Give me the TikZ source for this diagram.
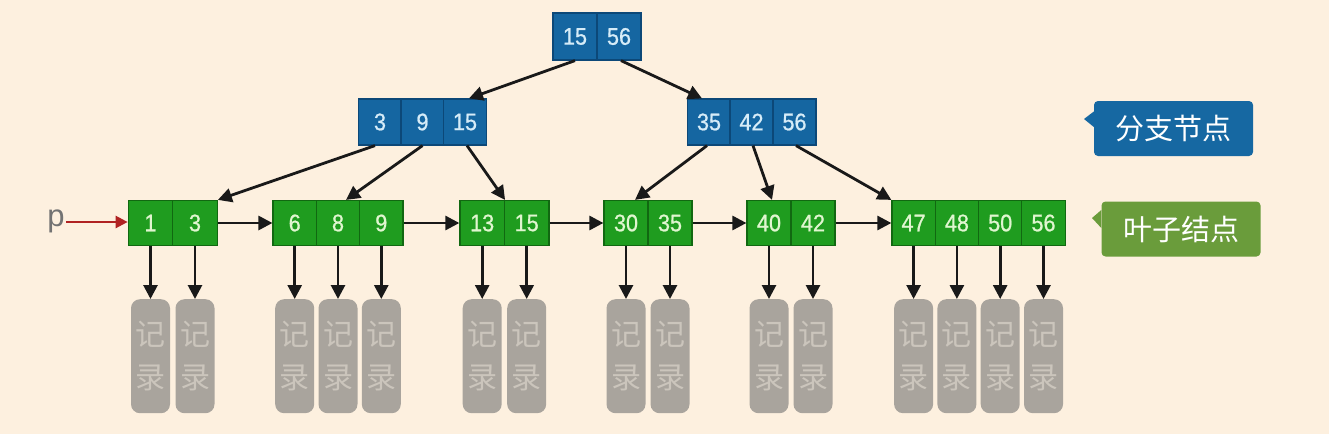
\documentclass[tikz,border=0pt]{standalone}
\usepackage{fontspec}
\setmainfont{Liberation Sans}[FakeStretch=0.9, FakeBold=0.8]
\newfontfamily\plainfont{Liberation Sans}
\newfontfamily\cjk{Noto Sans CJK SC}
\usetikzlibrary{arrows.meta}
\definecolor{bg}{HTML}{FDF0DF}
\definecolor{bfill}{HTML}{1566A1}
\definecolor{bline}{HTML}{0C4878}
\definecolor{btext}{HTML}{D6ECF8}
\definecolor{gfill}{HTML}{1F9C1F}
\definecolor{gline}{HTML}{116811}
\definecolor{gtext}{HTML}{E0F6D0}
\definecolor{recfill}{HTML}{A9A49D}
\definecolor{rectext}{HTML}{CBC5BC}
\definecolor{labgreen}{HTML}{6A9C3B}
\definecolor{labblue}{HTML}{1668A2}
\definecolor{parrow}{HTML}{B02222}
\tikzset{
  bcell/.style={draw=bline, line width=1.2pt, fill=bfill, text=btext, minimum height=46pt, minimum width=43pt, inner sep=0pt, font=\fontsize{24}{24}\selectfont},
  gcell/.style={draw=gline, line width=1.2pt, fill=gfill, text=gtext, minimum height=45pt, minimum width=43.3pt, inner sep=0pt, font=\fontsize{24}{24}\selectfont},
  rec/.style={fill=recfill, rounded corners=9pt, minimum width=39pt, minimum height=114pt, inner sep=0pt, text=rectext, align=center, font=\cjk\fontsize{30}{43}\selectfont},
  link/.style={line width=2.8pt, draw=black!90, -{Triangle[length=14pt,width=14pt]}},
  lab/.style={rounded corners=4pt, text=white, minimum width=159pt, minimum height=55pt, inner sep=0pt, font=\cjk\fontsize{29}{29}\selectfont}
}
\begin{document}
\begin{tikzpicture}[x=1pt,y=-1pt]
\useasboundingbox[fill=bg] (0,0) rectangle (1329,434);
% root
\node[bcell, minimum width=44pt, minimum height=47pt] (r1) at (575,36.5) {15};
\node[bcell, minimum width=44pt, minimum height=47pt] (r2) at (619,36.5) {56};
% branch level
\node[bcell] (a1) at (380,122) {3};
\node[bcell] (a2) at (422.5,122) {9};
\node[bcell] (a3) at (465,122) {15};
\node[bcell] (b1) at (709,122) {35};
\node[bcell] (b2) at (751.5,122) {42};
\node[bcell] (b3) at (794.5,122) {56};
% leaves
\node[gcell, minimum width=44.5pt] (l1a) at (150.5,223) {1};
\node[gcell, minimum width=44.5pt] (l1b) at (195,223) {3};
\node[gcell] (l2a) at (294.7,223) {6};
\node[gcell] (l2b) at (338,223) {8};
\node[gcell] (l2c) at (381.3,223) {9};
\node[gcell, minimum width=44.5pt] (l3a) at (482.2,223) {13};
\node[gcell, minimum width=44.5pt] (l3b) at (526.7,223) {15};
\node[gcell, minimum width=44pt] (l4a) at (626,223) {30};
\node[gcell, minimum width=44pt] (l4b) at (670,223) {35};
\node[gcell, minimum width=44pt] (l5a) at (769,223) {40};
\node[gcell, minimum width=44pt] (l5b) at (813,223) {42};
\node[gcell] (l6a) at (913.6,223) {47};
\node[gcell] (l6b) at (956.9,223) {48};
\node[gcell] (l6c) at (1000.2,223) {50};
\node[gcell] (l6d) at (1043.5,223) {56};
% tree links
\draw[link] (r1.south) -- ([xshift=4pt]a3.north);
\draw[link] ([xshift=2pt]r2.south) -- ([xshift=-7pt]b1.north);
\draw[link] ([xshift=-5pt]a1.south) -- (l1b.north east);
\draw[link] (a2.south) -- ([xshift=8pt]l2b.north);
\draw[link] ([xshift=2pt]a3.south) -- (l3a.north east);
\draw[link] ([xshift=-2pt]b1.south) -- ([xshift=9pt]l4a.north);
\draw[link] ([xshift=1.5pt]b2.south) -- ([xshift=3pt]l5a.north);
\draw[link] ([xshift=1.5pt]b3.south) -- (l6a.north west);
% leaf chain
\node[text=black!55, font=\plainfont\fontsize{31}{31}\selectfont, inner sep=0pt] (p) at (56,221) {p};
\coordinate (p0) at (66,222);
\draw[line width=2.4pt, draw=parrow, -{Triangle[length=12pt,width=12pt]}] (p0) -- (l1a.west |- p0);
\draw[link] (l1b.east) -- (l2a.west);
\draw[link] (l2c.east) -- (l3a.west);
\draw[link] (l3b.east) -- (l4a.west);
\draw[link] (l4b.east) -- (l5a.west);
\draw[link] (l5b.east) -- (l6a.west);
% records
\foreach \c in {l1a,l1b,l2a,l2b,l2c,l3a,l3b,l4a,l4b,l5a,l5b,l6a,l6b,l6c,l6d}{
  \node[rec, anchor=north] (rec-\c) at (\c.south |- 0,299) {记\\录};
  \draw[link] (\c.south) -- (rec-\c.north);
}
% labels
\node[lab, fill=labblue] (lb1) at (1173.5,128.5) {分支节点};
\fill[labblue] ([yshift=17pt]lb1.west) -- (1084,119) -- ([yshift=1.5pt]lb1.west) -- cycle;
\node[lab, fill=labgreen] (lb2) at (1181,229) {叶子结点};
\fill[labgreen] ([yshift=19pt]lb2.west) -- (1092,218) -- ([yshift=1pt]lb2.west) -- cycle;
\end{tikzpicture}
\end{document}
